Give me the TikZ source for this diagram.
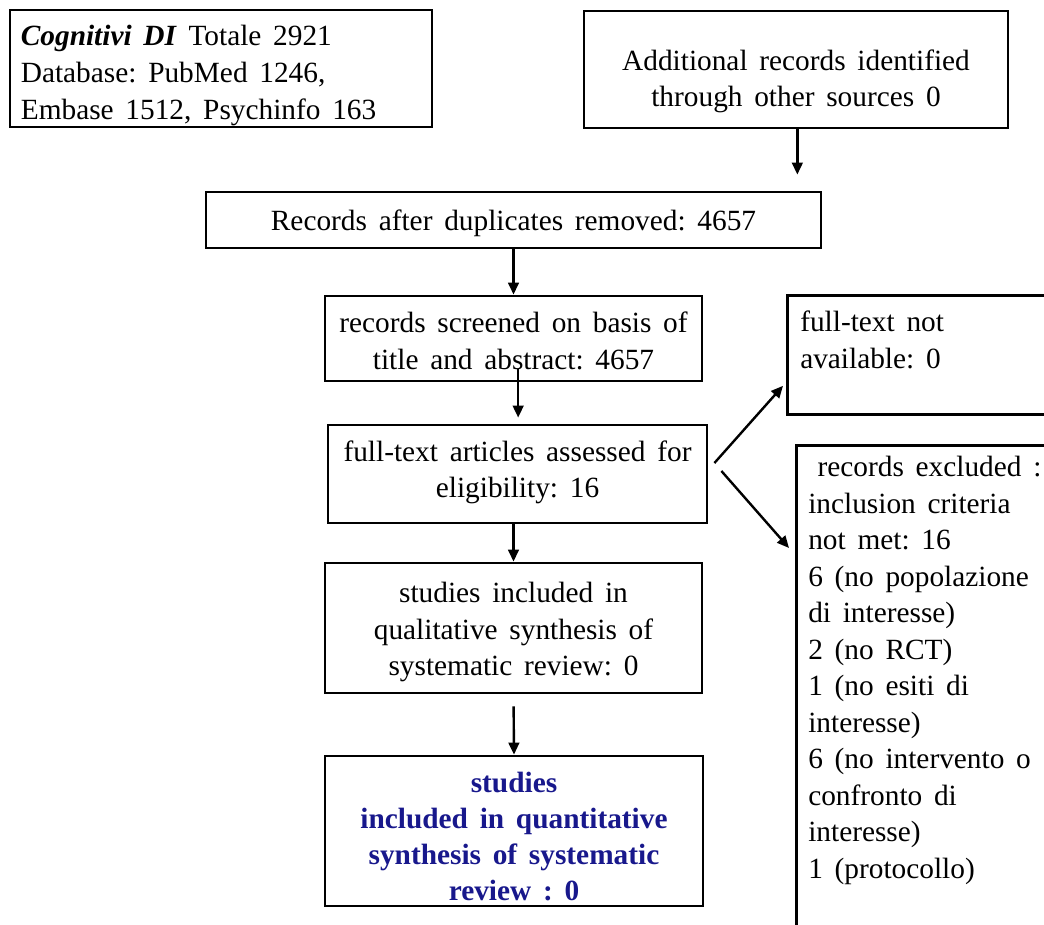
\documentclass[tikz,border=0pt]{standalone}
\usepackage{fontspec}
\setmainfont{Liberation Serif}[WordSpace=1.6]
\usetikzlibrary{arrows.meta,calc}
\definecolor{navytext}{RGB}{24,24,140}
\frenchspacing
\begin{document}
\begin{tikzpicture}[x=0.75pt,y=-0.75pt,
  every node/.style={font=\fontsize{22}{27.4}\selectfont},
  frame/.style={draw,line width=2.1pt,inner sep=0pt},
  txt/.style={inner sep=0pt,align=center},
  ltxt/.style={inner sep=0pt,align=left},
  arr/.style={line width=1.8pt,-{Triangle[length=9pt,width=8pt]}}]
\useasboundingbox (0,0) rectangle (1044,924);
\clip (0,0) rectangle (1044,924);

% identification
\node[frame,minimum width=316.5pt,minimum height=87.75pt] (A) at (221,68.5) {};
\node[ltxt,anchor=west] (At) at ($(A.west)+(12,7)$)
  {\textbf{\textit{Cognitivi DI}} Totale 2921\\Database: PubMed 1246,\\Embase 1512, Psychinfo 163};
\node[frame,minimum width=318pt,minimum height=87.75pt] (B) at (796,69.5) {};
\node[txt] (Bt) at ($(B)+(0,12)$)
  {Additional records identified\\through other sources 0};

% screening chain
\node[frame,minimum width=461.25pt,minimum height=42pt] (C) at (513.5,220) {};
\node[txt] (Ct) at ($(C)+(0,3)$) {Records after duplicates removed: 4657};
\node[frame,minimum width=282.75pt,minimum height=63.75pt] (D) at (513.5,338.5) {};
\node[txt] (Dt) at ($(D)+(0,2.5)$) {records screened on basis of\\title and abstract: 4657};
\node[frame,minimum width=284.25pt,minimum height=73.5pt] (E) at (517.5,474) {};
\node[txt] (Et) at ($(E)+(0,-1.5)$) {full-text articles assessed for\\eligibility: 16};
\node[frame,minimum width=282.75pt,minimum height=97.5pt] (H) at (513.5,628) {};
\node[txt] (Ht) at ($(H)+(0,4)$) {studies included in\\qualitative synthesis of\\systematic review: 0};
\node[frame,minimum width=283.5pt,minimum height=112.5pt] (I) at (514,831) {};
\node[txt,text=navytext,font=\fontsize{22}{27}\selectfont\bfseries] (It) at ($(I)+(0,6)$)
  {studies\\included in quantitative\\synthesis of systematic\\review : 0};

% exclusions on the right
\node[frame,anchor=north west,minimum width=213pt,minimum height=89.25pt] (F) at (786,294) {};
\node[ltxt,anchor=north west] (Ft) at ($(F.north west)+(14,17)$)
  {full-text not\\available: 0};
\node[frame,anchor=north west,minimum width=206.25pt,minimum height=375pt] (G) at (795,444) {};
\node[ltxt,anchor=north west] (Gt) at ($(G.north west)+(13,12)$)
  {\hspace{7pt}records excluded :\\inclusion criteria\\not met: 16\\6 (no popolazione\\di interesse)\\2 (no RCT)\\1 (no esiti di\\interesse)\\6 (no intervento o\\confronto di\\interesse)\\1 (protocollo)};

% connectors
\draw[arr,shorten >=12pt] ([xshift=1]B.south) -- ([xshift=1]B.south |- C.north);
\draw[arr] (C.south) -- (D.north);
\draw[arr,shorten >=4.5pt] ([xshift=3.5,yshift=10]D.south) -- ([xshift=3.5]D.south |- E.north);
\draw[arr] (E.south -| H.north) -- (H.north);
\draw[arr,shorten <=9pt] (H.south) -- (I.north);
\draw[arr] ($(E.east)+(6,-11)$) -- ($(F.south west)+(-3,-30)$);
\draw[arr] ($(E.east)+(13,-3)$) -- ($(G.north west)+(-6,104)$);
\end{tikzpicture}
\end{document}
